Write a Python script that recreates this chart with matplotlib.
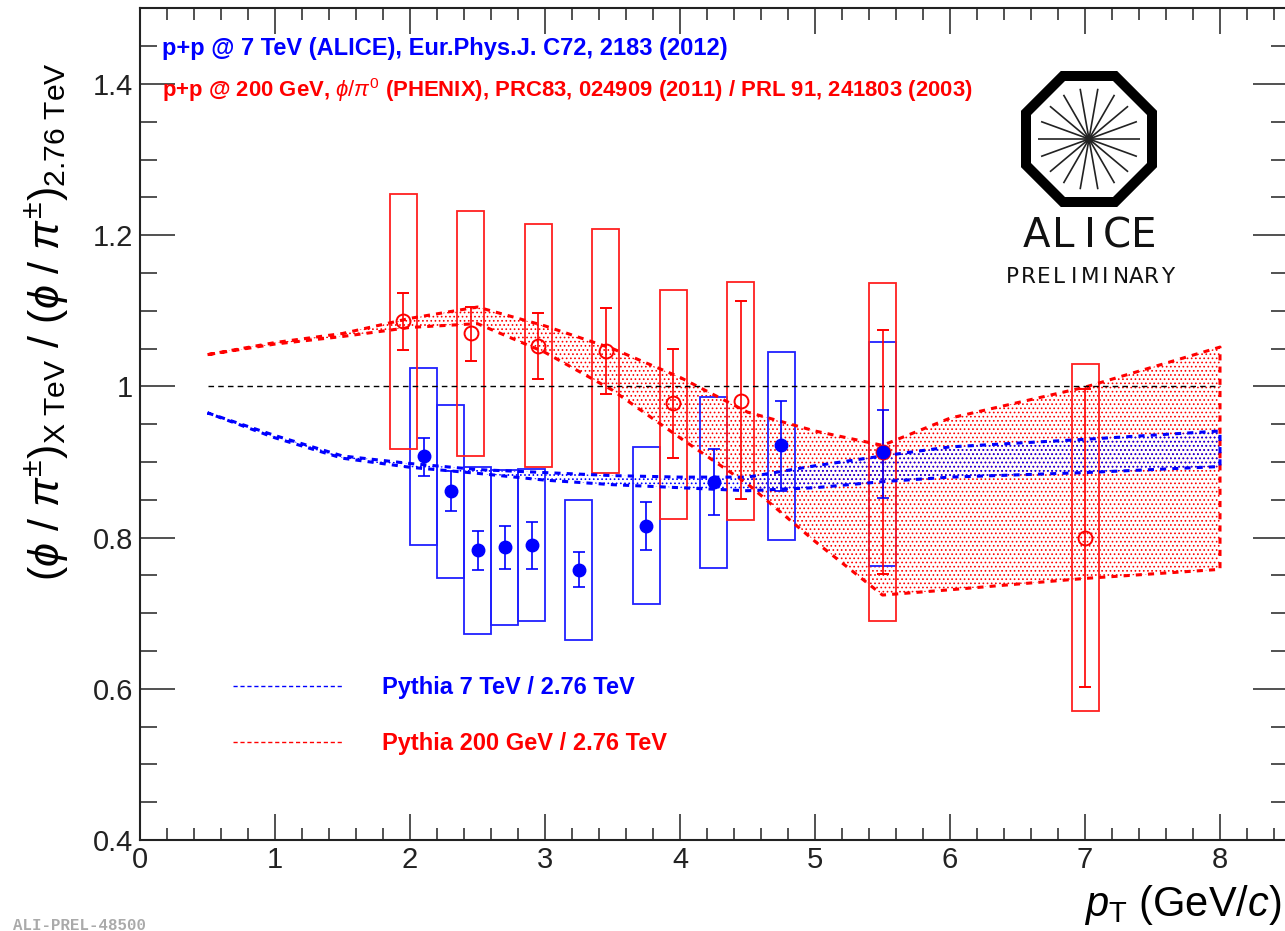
import numpy as np
import matplotlib
matplotlib.use('Agg')
import matplotlib.pyplot as plt
from matplotlib.patches import Rectangle, RegularPolygon, Circle
from matplotlib.lines import Line2D
from matplotlib.ticker import MultipleLocator, FuncFormatter

plt.rcParams['font.family'] = ['Liberation Sans', 'DejaVu Sans']
plt.rcParams['mathtext.fontset'] = 'custom'
plt.rcParams['mathtext.rm'] = 'Liberation Sans'
plt.rcParams['mathtext.it'] = 'Liberation Sans:italic'
plt.rcParams['mathtext.bf'] = 'Liberation Sans:bold'
plt.rcParams['mathtext.fallback'] = 'stixsans'
plt.rcParams['hatch.linewidth'] = 0.7

# ALICE p+p 7 TeV / 2.76 TeV
alice_pt = [2.1, 2.3, 2.5, 2.7, 2.9, 3.25, 3.75, 4.25, 4.75, 5.5]
alice_y = [0.908, 0.861, 0.784, 0.788, 0.790, 0.757, 0.816, 0.874, 0.922, 0.913]
alice_stat_lo = [0.882, 0.835, 0.757, 0.759, 0.759, 0.735, 0.784, 0.830, 0.862, 0.853]
alice_stat_hi = [0.932, 0.888, 0.809, 0.816, 0.821, 0.781, 0.847, 0.917, 0.981, 0.969]
alice_sys_lo = [0.790, 0.747, 0.672, 0.684, 0.690, 0.664, 0.712, 0.760, 0.797, 0.763]
alice_sys_hi = [1.024, 0.975, 0.894, 0.890, 0.891, 0.850, 0.920, 0.986, 1.045, 1.059]

# PHENIX p+p 200 GeV / 2.76 TeV
phenix_pt = [1.95, 2.45, 2.95, 3.45, 3.95, 4.45, 5.5, 7.0]
phenix_y = [1.087, 1.071, 1.054, 1.047, 0.978, 0.981, 0.913, 0.799]
phenix_stat_lo = [1.048, 1.034, 1.010, 0.990, 0.905, 0.851, 0.752, 0.602]
phenix_stat_hi = [1.123, 1.105, 1.097, 1.104, 1.050, 1.113, 1.075, 0.996]
phenix_sys_lo = [0.917, 0.908, 0.893, 0.885, 0.825, 0.823, 0.690, 0.571]
phenix_sys_hi = [1.255, 1.232, 1.215, 1.208, 1.128, 1.138, 1.137, 1.030]

# pythia ratio bands
pythia_pt = [0.5, 1.0, 1.5, 2.0, 2.5, 3.0, 3.5, 4.0, 4.5, 5.0, 5.5, 6.0, 7.0, 8.0]
py7_hi = [0.965, 0.935, 0.908, 0.898, 0.890, 0.886, 0.882, 0.880, 0.880, 0.895, 0.908, 0.920, 0.930, 0.941]
py7_lo = [0.965, 0.932, 0.905, 0.893, 0.885, 0.876, 0.870, 0.866, 0.862, 0.866, 0.874, 0.880, 0.886, 0.894]
py200_hi = [1.042, 1.058, 1.070, 1.090, 1.105, 1.080, 1.050, 1.012, 0.966, 0.941, 0.922, 0.958, 0.999, 1.052]
py200_lo = [1.042, 1.056, 1.066, 1.078, 1.083, 1.045, 0.995, 0.932, 0.871, 0.795, 0.724, 0.731, 0.746, 0.758]

ref_x = [0.5, 8.0]
ref_y = [1.0, 1.0]
box_hw = 0.1

W, H = 1285, 931
fig = plt.figure(figsize=(W / 100, H / 100), dpi=100)
ax = fig.add_axes([140 / W, 91 / H, 1147.5 / W, 831.6 / H])
ax.set_xlim(0, 8.5)
ax.set_ylim(0.4, 1.5)


def band(x, lo, hi, col):
    ax.fill_between(x, lo, hi, facecolor='none', edgecolor=col, hatch='....', linewidth=0)
    px = list(x) + list(x[::-1]) + [x[0]]
    py = list(hi) + list(lo[::-1]) + [hi[0]]
    ax.plot(px, py, color=col, lw=2.2, ls=(0, (2, 2)))


band(pythia_pt, py200_lo, py200_hi, 'red')
band(pythia_pt, py7_lo, py7_hi, 'blue')

ax.plot(ref_x, ref_y, color='black', lw=1.0, ls=(0, (4, 3)))

# systematic boxes
for x, lo, hi in zip(alice_pt, alice_sys_lo, alice_sys_hi):
    ax.add_patch(Rectangle((x - box_hw, lo), 2 * box_hw, hi - lo, fill=False, ec='#2020ff', lw=1.3))
for x, lo, hi in zip(phenix_pt, phenix_sys_lo, phenix_sys_hi):
    ax.add_patch(Rectangle((x - box_hw, lo), 2 * box_hw, hi - lo, fill=False, ec='#ff2020', lw=1.3))

py = np.array(phenix_y)
ax.errorbar(phenix_pt, py, yerr=[py - np.array(phenix_stat_lo), np.array(phenix_stat_hi) - py],
            fmt='o', color='red', mfc='none', mec='red', mew=1.4, ms=10, capsize=4,
            elinewidth=1.2, capthick=1.2)
ay = np.array(alice_y)
ax.errorbar(alice_pt, ay, yerr=[ay - np.array(alice_stat_lo), np.array(alice_stat_hi) - ay],
            fmt='o', color='blue', ms=9, capsize=4, elinewidth=1.2, capthick=1.2)

# axes style
ax.xaxis.set_major_locator(MultipleLocator(1))
ax.xaxis.set_minor_locator(MultipleLocator(0.2))
ax.yaxis.set_major_locator(MultipleLocator(0.2))
ax.yaxis.set_minor_locator(MultipleLocator(0.05))
ax.yaxis.set_major_formatter(FuncFormatter(lambda v, p: '%g' % round(v, 2)))
ax.tick_params(which='both', direction='in', top=True, right=True, width=1.1, colors='#222222',
               labelsize=21)
ax.tick_params(axis='x', which='major', length=18.7, pad=4)
ax.tick_params(axis='x', which='minor', length=8.6)
ax.tick_params(axis='y', which='major', length=25, pad=5)
ax.tick_params(axis='y', which='minor', length=12.5)
for s in ax.spines.values():
    s.set_linewidth(1.5)
    s.set_color('#222222')

fig.text(47 / W, 1 - 62 / H,
         r'$(\phi\ /\ \pi^{\pm})_{\mathrm{X\ TeV}}\ /\ (\phi\ /\ \pi^{\pm})_{\mathrm{2.76\ TeV}}$',
         rotation=90, ha='center', va='top', fontsize=31)
fig.text(1281 / W, 1 - 916 / H, r'$p_{\mathrm{T}}$ (GeV/$c$)', ha='right', va='baseline', fontsize=30)

# header texts
fig.text(162 / W, 1 - 48 / H, 'p+p @ 7 TeV (ALICE), Eur.Phys.J. C72, 2183 (2012)',
         color='blue', weight='bold', fontsize=17, ha='left', va='center')
fig.text(162 / W, 1 - 90 / H,
         r'p+p @ 200 GeV, $\phi/\pi^{0}$ (PHENIX), PRC83, 024909 (2011) / PRL 91, 241803 (2003)',
         color='red', weight='bold', fontsize=15.9, ha='left', va='center')

# legend
handles = [Line2D([], [], color='blue', lw=1.0, ls=(0, (3, 2))),
           Line2D([], [], color='red', lw=1.0, ls=(0, (3, 2)))]
ax.legend(handles, ['Pythia 7 TeV / 2.76 TeV', 'Pythia 200 GeV / 2.76 TeV'],
          loc='upper left', bbox_to_anchor=(0.081, 0.197), frameon=False,
          prop={'weight': 'bold', 'size': 17}, labelcolor=['blue', 'red'],
          handlelength=4.6, handletextpad=1.7, labelspacing=1.4, borderpad=0, borderaxespad=0)

fig.text(13 / W, 1 - 926 / H, 'ALI-PREL-48500', family='Liberation Mono', weight='bold',
         color='#aaaaaa', fontsize=11.3, ha='left', va='center')

# ALICE logo (pixel coordinates)
lax = fig.add_axes([990 / W, 1 - 300 / H, 200 / W, 240 / H])
lax.set_xlim(990, 1190)
lax.set_ylim(300, 60)
lax.axis('off')
cx, cy = 1089, 139
lax.add_patch(RegularPolygon((cx, cy), 8, radius=63 / np.cos(np.pi / 8), orientation=np.pi / 8,
                             fill=False, ec='black', lw=7.2, joinstyle='miter'))
for a in np.deg2rad(np.arange(0, 180, 20)):
    lax.plot([cx - 51 * np.cos(a), cx + 51 * np.cos(a)], [cy - 51 * np.sin(a), cy + 51 * np.sin(a)],
             color='#222222', lw=1.2, solid_capstyle='butt')
lax.add_patch(Circle((cx, cy), 4, color='#999999'))
for i, ch in enumerate('ALICE'):
    lax.text(1023 + (i + 0.5) * 134 / 5, 236, ch, ha='center', va='center', fontsize=29,
             family='DejaVu Sans', color='#111111')
for i, ch in enumerate('PRELIMINARY'):
    lax.text(1005 + (i + 0.5) * 170 / 11, 277, ch, ha='center', va='center', fontsize=15.5,
             family='DejaVu Sans', color='#111111')

fig.savefig('out.png', dpi=100)
